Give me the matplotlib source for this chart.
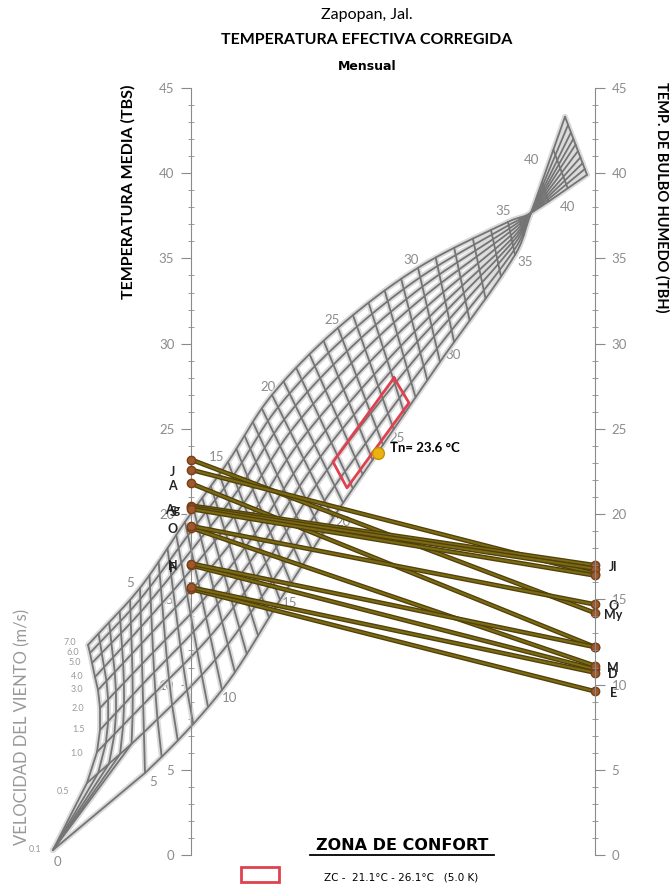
import matplotlib
matplotlib.use("Agg")
import matplotlib.pyplot as plt
import numpy as np

plt.rcParams["font.family"] = ["Lato", "DejaVu Sans"]

# monthly data (TBS left scale, TBH right scale)
months = ["E", "F", "M", "A", "My", "J", "Jl", "Ag", "S", "O", "N", "D"]
tbs = [15.6, 17.0, 19.2, 21.8, 23.2, 22.6, 20.5, 20.4, 20.3, 19.3, 17.1, 15.7]
tbh = [9.6, 10.9, 11.1, 12.2, 14.2, 16.5, 17.0, 16.8, 16.4, 14.7, 12.2, 10.7]
left_labels = ["F", "A", "J", "Ag", "S", "O", "N"]
right_labels = ["E", "M", "My", "Jl", "D", "O"]

tn = 23.6
zc_low, zc_high = 21.1, 26.1

# nomogram grid in pixel coords (x, y)
vel = ["7.0", "6.0", "5.0", "4.0", "3.0", "2.0", "1.5", "1.0", "0.5", "0.1"]
et_levels = [0, 5, 10, 15, 20, 25, 30, 35, 37, 40]
edge_hi = [(88, 645), (140, 588), (185, 522), (228, 462), (272, 395),
           (338, 328), (418, 268), (508, 222), (531, 213), (587, 175)]
edge_lo = [(53, 850), (145, 773), (222, 690), (280, 600), (333, 518),
           (383, 445), (440, 362), (515, 255), (531, 213), (565, 117)]
et0_nodes = [(88, 645), (90, 653), (92, 663), (95, 677), (98, 690),
             (100, 708), (100, 730), (97, 752), (87, 783), (53, 850)]
frac_e5 = [0, .06, .13, .21, .30, .41, .52, .63, .78, 1]
frac_e10 = [0, .08, .17, .26, .36, .47, .57, .68, .82, 1]
frac_hi = [0, .10, .20, .30, .41, .52, .62, .73, .86, 1]

et_lab_hi = [("5", 130, 583), ("15", 217, 457), ("20", 268, 387), ("25", 332, 320),
             ("30", 411, 260), ("35", 503, 211), ("40", 532, 160)]
et_lab_lo = [("0", 57, 862), ("5", 153, 782), ("10", 230, 698), ("15", 290, 603),
             ("20", 343, 522), ("25", 397, 438), ("30", 453, 355), ("35", 525, 262),
             ("40", 568, 207)]
vel_lab = [(70, 643), (73, 653), (75, 663), (77, 677), (77, 690),
           (78, 709), (79, 730), (77, 754), (63, 792), (35, 850)]

zone_px = [(394, 378), (409, 403), (347, 488), (333, 462)]
tn_px = (378, 448)

W, H = 670, 886


def d(px, py):
    return (px - 191) / 404.0, (855 - py) / 17.04


fig = plt.figure(figsize=(6.7, 8.86), dpi=100)
ax = fig.add_axes([191 / W, 31 / H, 404 / W, 767 / H])
ax.set_xlim(0, 1)
ax.set_ylim(0, 45)
ax2 = ax.twinx()
ax2.set_ylim(0, 45)

grey = "#8a8a8a"
for a in (ax, ax2):
    for s in ("top", "bottom"):
        a.spines[s].set_visible(False)
    a.set_xticks([])
    a.set_yticks(range(0, 46, 5))
    a.set_yticks(range(0, 46), minor=True)
    a.tick_params(axis="y", which="major", length=7, color=grey, labelcolor="#8c8c8c",
                  labelsize=9.5, direction="out", pad=5)
    a.tick_params(axis="y", which="minor", length=5, color=grey, direction="inout")
ax.spines["right"].set_visible(False)
ax2.spines["left"].set_visible(False)
ax.spines["left"].set_color(grey)
ax2.spines["right"].set_color(grey)

# grid nodes at the read ET levels
nv = len(vel)
cols = []
for i, e in enumerate(et_levels):
    if e == 0:
        cols.append([d(*p) for p in et0_nodes])
        continue
    fr = frac_e5 if e == 5 else frac_e10 if e == 10 else frac_hi
    u = np.array(d(*edge_hi[i]))
    l = np.array(d(*edge_lo[i]))
    cols.append([tuple(u + f * (l - u)) for f in fr])
cols = np.array(cols)  # (n_levels, nv, 2)
lev = np.array(et_levels, dtype=float)

# smooth (Hermite) run of each speed curve through its nodes, 1 degree ET steps
tang = np.zeros_like(cols)
for k in range(len(lev)):
    a0 = max(k - 1, 0)
    a1 = min(k + 1, len(lev) - 1)
    tang[k] = (cols[a1] - cols[a0]) / (lev[a1] - lev[a0])


def speed_pts(ets):
    out = []
    for e in ets:
        k = min(np.searchsorted(lev, e, side="right") - 1, len(lev) - 2)
        h = lev[k + 1] - lev[k]
        t = (e - lev[k]) / h
        h00 = 2 * t ** 3 - 3 * t ** 2 + 1
        h10 = t ** 3 - 2 * t ** 2 + t
        h01 = -2 * t ** 3 + 3 * t ** 2
        h11 = t ** 3 - t ** 2
        out.append(h00 * cols[k] + h10 * h * tang[k] + h01 * cols[k + 1] + h11 * h * tang[k + 1])
    return np.array(out)


fine = speed_pts(np.linspace(0, 40, 401))
grid = speed_pts(np.arange(0, 41))
# lowest speed collapses to the origin for the first degrees
for r in range(1, 5):
    grid[r, -1] = grid[0, -1]
fine[:45, -1] = grid[0, -1]
fine[40:51, -1] = np.linspace(grid[4, -1], grid[5, -1], 11)

for glw, gcol in ((4.0, "#dadada"), (1.3, "#747474")):
    for v in range(nv):
        ax.plot(fine[:, v, 0], fine[:, v, 1], color=gcol, lw=glw, clip_on=False, zorder=2,
                solid_capstyle="round")
    for r in range(grid.shape[0]):
        ax.plot(grid[r, :, 0], grid[r, :, 1], color=gcol, lw=glw, clip_on=False, zorder=2,
                solid_capstyle="round")

for txt, x, y in et_lab_hi + et_lab_lo:
    ax.text(*d(x, y), txt, color="#8c8c8c", fontsize=9.5, ha="center", va="center", zorder=1)
for txt, (x, y) in zip(vel, vel_lab):
    ax.text(*d(x, y), txt, color="#9a9a9a", fontsize=6.5, ha="center", va="center")

# comfort zone and Tn
zx = [d(*p)[0] for p in zone_px] + [d(*zone_px[0])[0]]
zy = [d(*p)[1] for p in zone_px] + [d(*zone_px[0])[1]]
ax.plot(zx, zy, color="#e0414f", lw=2, zorder=3)
ax.plot(d(*tn_px)[0], tn, "o", ms=8.5, color="#eab30f", mec="#c98d00", zorder=6)
ax.text(d(*tn_px)[0] + 0.03, tn + 0.25, "Tn= %.1f °C" % tn, fontsize=9.5, fontweight="bold",
        va="center", ha="left", zorder=6)

# monthly lines
for m, a, b in zip(months, tbs, tbh):
    ax.plot([0, 1], [a, b], color="#4f410a", lw=3.4, zorder=4, clip_on=False)
    ax.plot([0, 1], [a, b], color="#7d6a14", lw=1.5, zorder=4, clip_on=False)
for m, a, b in zip(months, tbs, tbh):
    ax.plot([0, 1], [a, b], "o", ms=6, color="#9a5a2c", mec="#7a3f18", zorder=5, clip_on=False)
    if m in left_labels:
        ax.text(-0.045, a - 0.15, m, fontsize=9, fontweight="bold", ha="center", va="center",
                color="#222222", zorder=6)
    if m in right_labels:
        ax.text(1.045, b - 0.1, m, fontsize=9, fontweight="bold", ha="center", va="center",
                color="#222222", zorder=6)

# titles and axis names
fig.text(367 / W, 1 - 15 / H, "Zapopan, Jal.", fontsize=11.5, ha="center", va="center")
fig.text(367 / W, 1 - 40 / H, "TEMPERATURA EFECTIVA CORREGIDA", fontsize=11.5,
         fontweight="bold", ha="center", va="center")
fig.text(367 / W, 1 - 66 / H, "Mensual", fontsize=9, fontweight="bold", ha="center",
         va="center", family="DejaVu Sans")
fig.text(128 / W, 1 - 192 / H, "TEMPERATURA MEDIA (TBS)", fontsize=11.5, fontweight="bold",
         rotation=90, ha="center", va="center")
fig.text(662 / W, 1 - 197 / H, "TEMP. DE BULBO HUMEDO (TBH)", fontsize=10.5,
         fontweight="bold", rotation=270, ha="center", va="center")
fig.text(22 / W, 1 - 727 / H, "VELOCIDAD DEL VIENTO (m/s)", fontsize=12, color="#999999",
         rotation=90, ha="center", va="center")

# legend
fig.text(402 / W, 1 - 846 / H, "ZONA DE CONFORT", fontsize=11.5, fontweight="bold",
         ha="center", va="center", family="DejaVu Sans")
fig.add_artist(plt.Line2D([310 / W, 494 / W], [1 - 855 / H, 1 - 855 / H], color="black", lw=1.3))
fig.add_artist(plt.Rectangle((241 / W, 1 - 882 / H), 38 / W, 15 / H, fill=False,
                             edgecolor="#e0414f", lw=2))
fig.text(401 / W, 1 - 877 / H, "ZC -  %.1f°C - %.1f°C   (%.1f K)" % (zc_low, zc_high, zc_high - zc_low),
         fontsize=7.5, ha="center", va="center", family="DejaVu Sans")

fig.savefig("out.png", dpi=100)
